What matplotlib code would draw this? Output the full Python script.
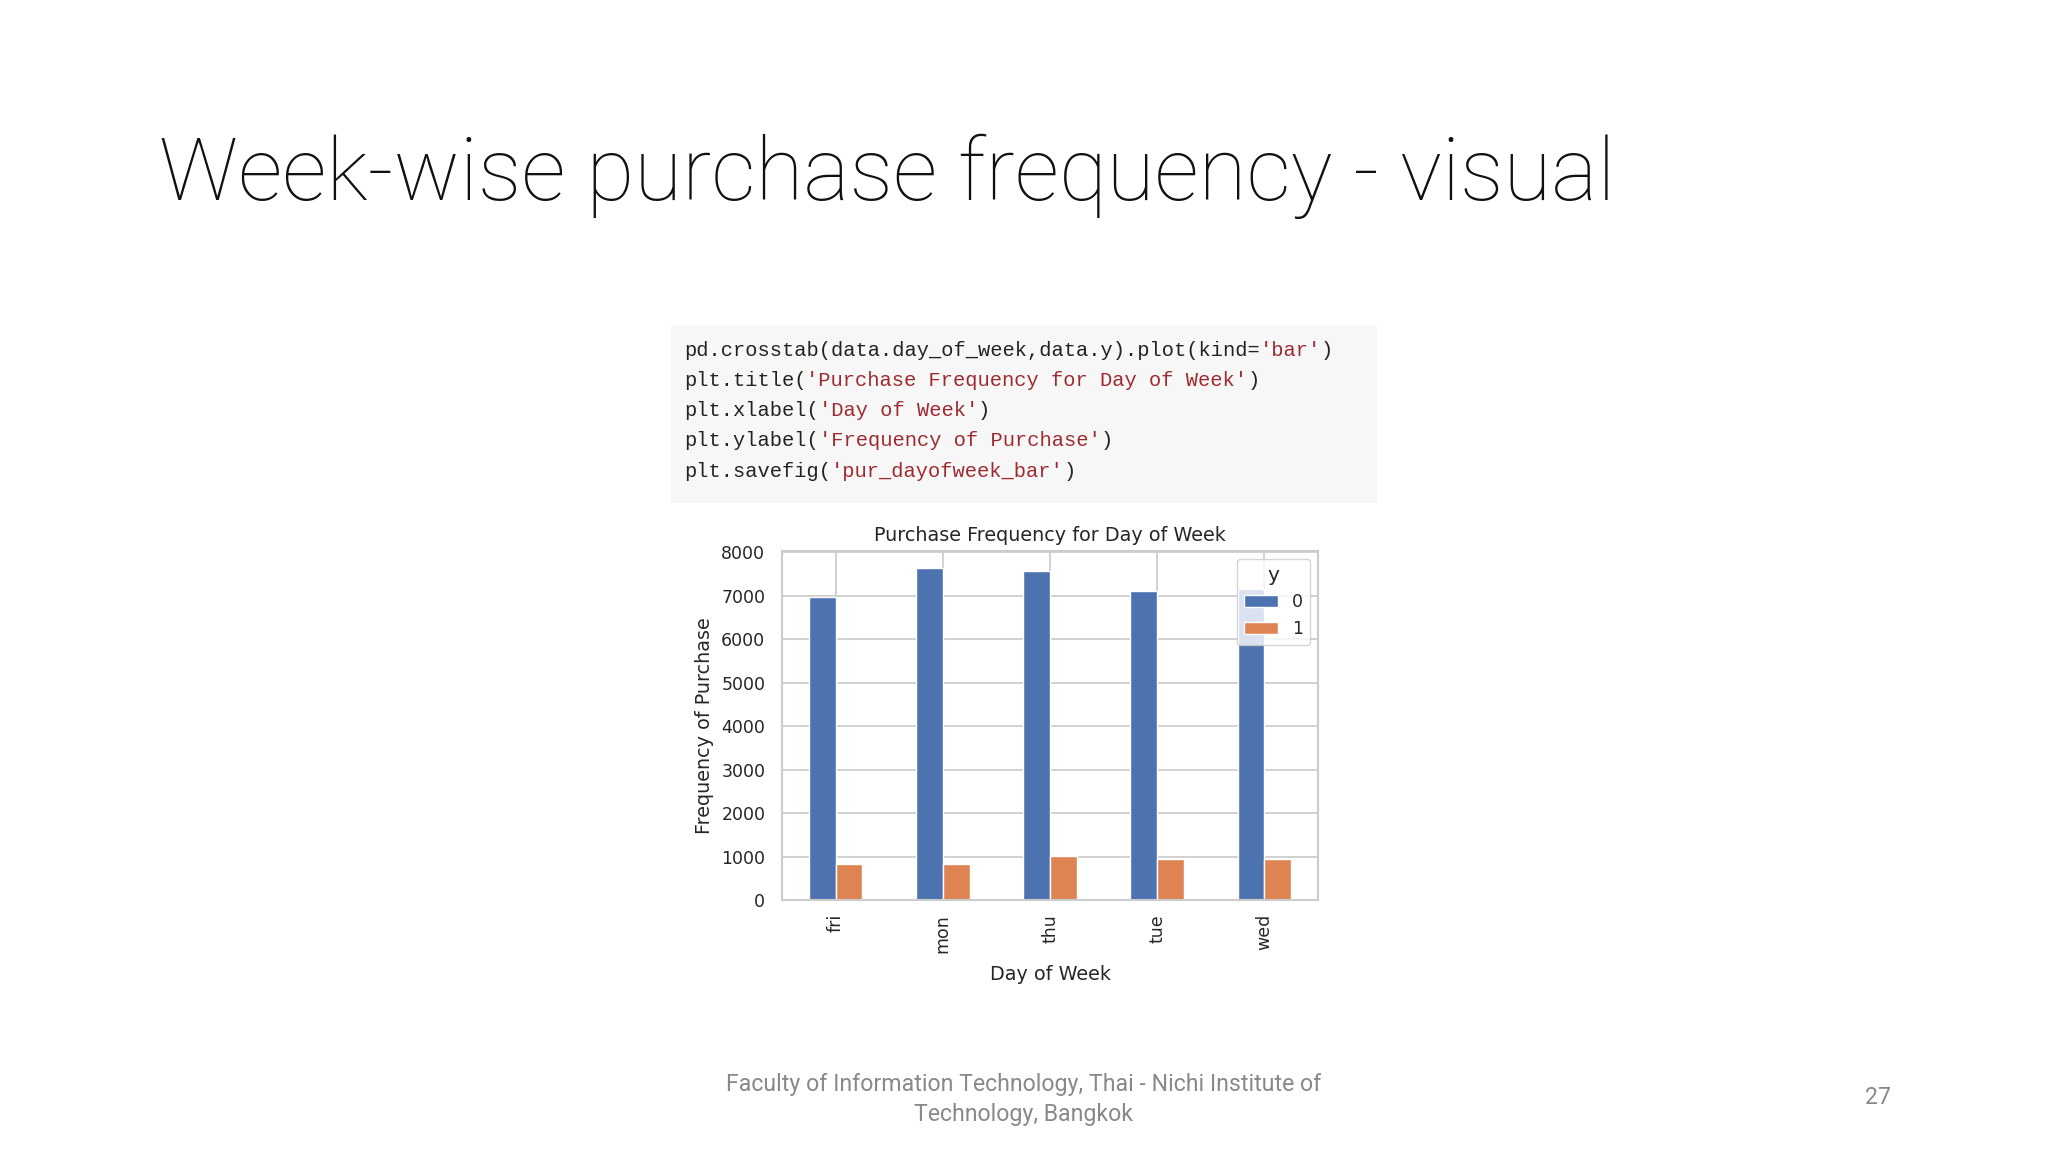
import matplotlib
matplotlib.use('Agg')
import matplotlib.pyplot as plt
import pandas as pd
import seaborn as sns
from matplotlib.patches import Rectangle

# data
days = ['fri', 'mon', 'thu', 'tue', 'wed']
count_no = [6980, 7650, 7570, 7120, 7150]
count_yes = [830, 830, 1015, 940, 940]

slide_title = 'Week-wise purchase frequency - visual'
chart_title = 'Purchase Frequency for Day of Week'
x_label = 'Day of Week'
y_label = 'Frequency of Purchase'
footer_lines = ['Faculty of Information Technology, Thai - Nichi Institute of',
                'Technology, Bangkok']
page_no = '27'

# code cell: (text, is_string)
code_lines = [
    [("pd.crosstab(data.day_of_week,data.y).plot(kind=", False), ("'bar'", True), (")", False)],
    [("plt.title(", False), ("'Purchase Frequency for Day of Week'", True), (")", False)],
    [("plt.xlabel(", False), ("'Day of Week'", True), (")", False)],
    [("plt.ylabel(", False), ("'Frequency of Purchase'", True), (")", False)],
    [("plt.savefig(", False), ("'pur_dayofweek_bar'", True), (")", False)],
]

sns.set_theme(style='whitegrid', palette='deep')
plt.rcParams['font.family'] = ['DejaVu Sans']

W, H = 2048, 1152
fig = plt.figure(figsize=(20.48, 11.52), dpi=100)
fig.patch.set_facecolor('white')
renderer = fig.canvas.get_renderer()


def px(x, y):
    return x / W, 1 - y / H


def fit_text(x, y, s, width_px, **kw):
    t = fig.text(*px(x, y), s, **kw)
    w = t.get_window_extent(renderer).width
    t.set_fontsize(t.get_fontsize() * width_px / w)
    return t


# slide title
fit_text(159, 200, slide_title, 1457, fontsize=60, family=['Roboto', 'DejaVu Sans'],
         weight='light', ha='left', va='baseline', color='#111111')

# code cell
fig.add_artist(Rectangle(px(671, 503), 706 / W, 178 / H, transform=fig.transFigure,
                         facecolor='#f7f7f7', edgecolor='none', zorder=0))
code_fs = 14.7
adv = 0.6 * code_fs * 100 / 72
line_y = [350, 380, 410, 441, 471]
for ly, segs in zip(line_y, code_lines):
    n = 0
    for txt, is_str in segs:
        fig.text(*px(684 + n * adv, ly), txt, family=['Liberation Mono', 'DejaVu Sans Mono'],
                 fontsize=code_fs, ha='left', va='center',
                 color='#9e2a2f' if is_str else '#222222')
        n += len(txt)

# chart
ax = fig.add_axes([782 / W, 1 - 900 / H, 536 / W, 349 / H])
df = pd.DataFrame({0: count_no, 1: count_yes}, index=pd.Index(days, name='day_of_week'))
df.columns.name = 'y'
pal = sns.color_palette('deep')
df.plot(kind='bar', ax=ax, color=[pal[0], pal[1]])

ax.set_title(chart_title, fontsize=13.8, color='.15', pad=7)
ax.set_xlabel(x_label, fontsize=13.8, color='.15', labelpad=9)
ax.set_ylabel(y_label, fontsize=13.8, color='.15', labelpad=5)
ax.tick_params(axis='y', length=0, pad=12, labelsize=12.5, labelcolor='.15')
ax.tick_params(axis='x', length=0, pad=10, labelsize=12.5, labelcolor='.15', rotation=90)
ax.grid(True, color='.8', linewidth=1.25)
ax.set_axisbelow(True)
for sp in ax.spines.values():
    sp.set_color('.8')
    sp.set_linewidth(1.5)
ax.legend(title='y', loc='upper right', fontsize=12.5, title_fontsize=14.5,
          frameon=True, framealpha=0.8, edgecolor='.8', borderaxespad=0.45)

# footer
ft = fit_text(1024, 1084, footer_lines[0], 598, fontsize=14, family=['Roboto', 'DejaVu Sans'],
              ha='center', va='center', color='#898989')
fig.text(*px(1024, 1114), footer_lines[1], fontsize=ft.get_fontsize(),
         family=['Roboto', 'DejaVu Sans'], ha='center', va='center', color='#898989')
fig.text(*px(1878, 1098), page_no, fontsize=ft.get_fontsize(),
         family=['Roboto', 'DejaVu Sans'], ha='center', va='center', color='#898989')

fig.savefig('out.png', dpi=100, facecolor='white')
